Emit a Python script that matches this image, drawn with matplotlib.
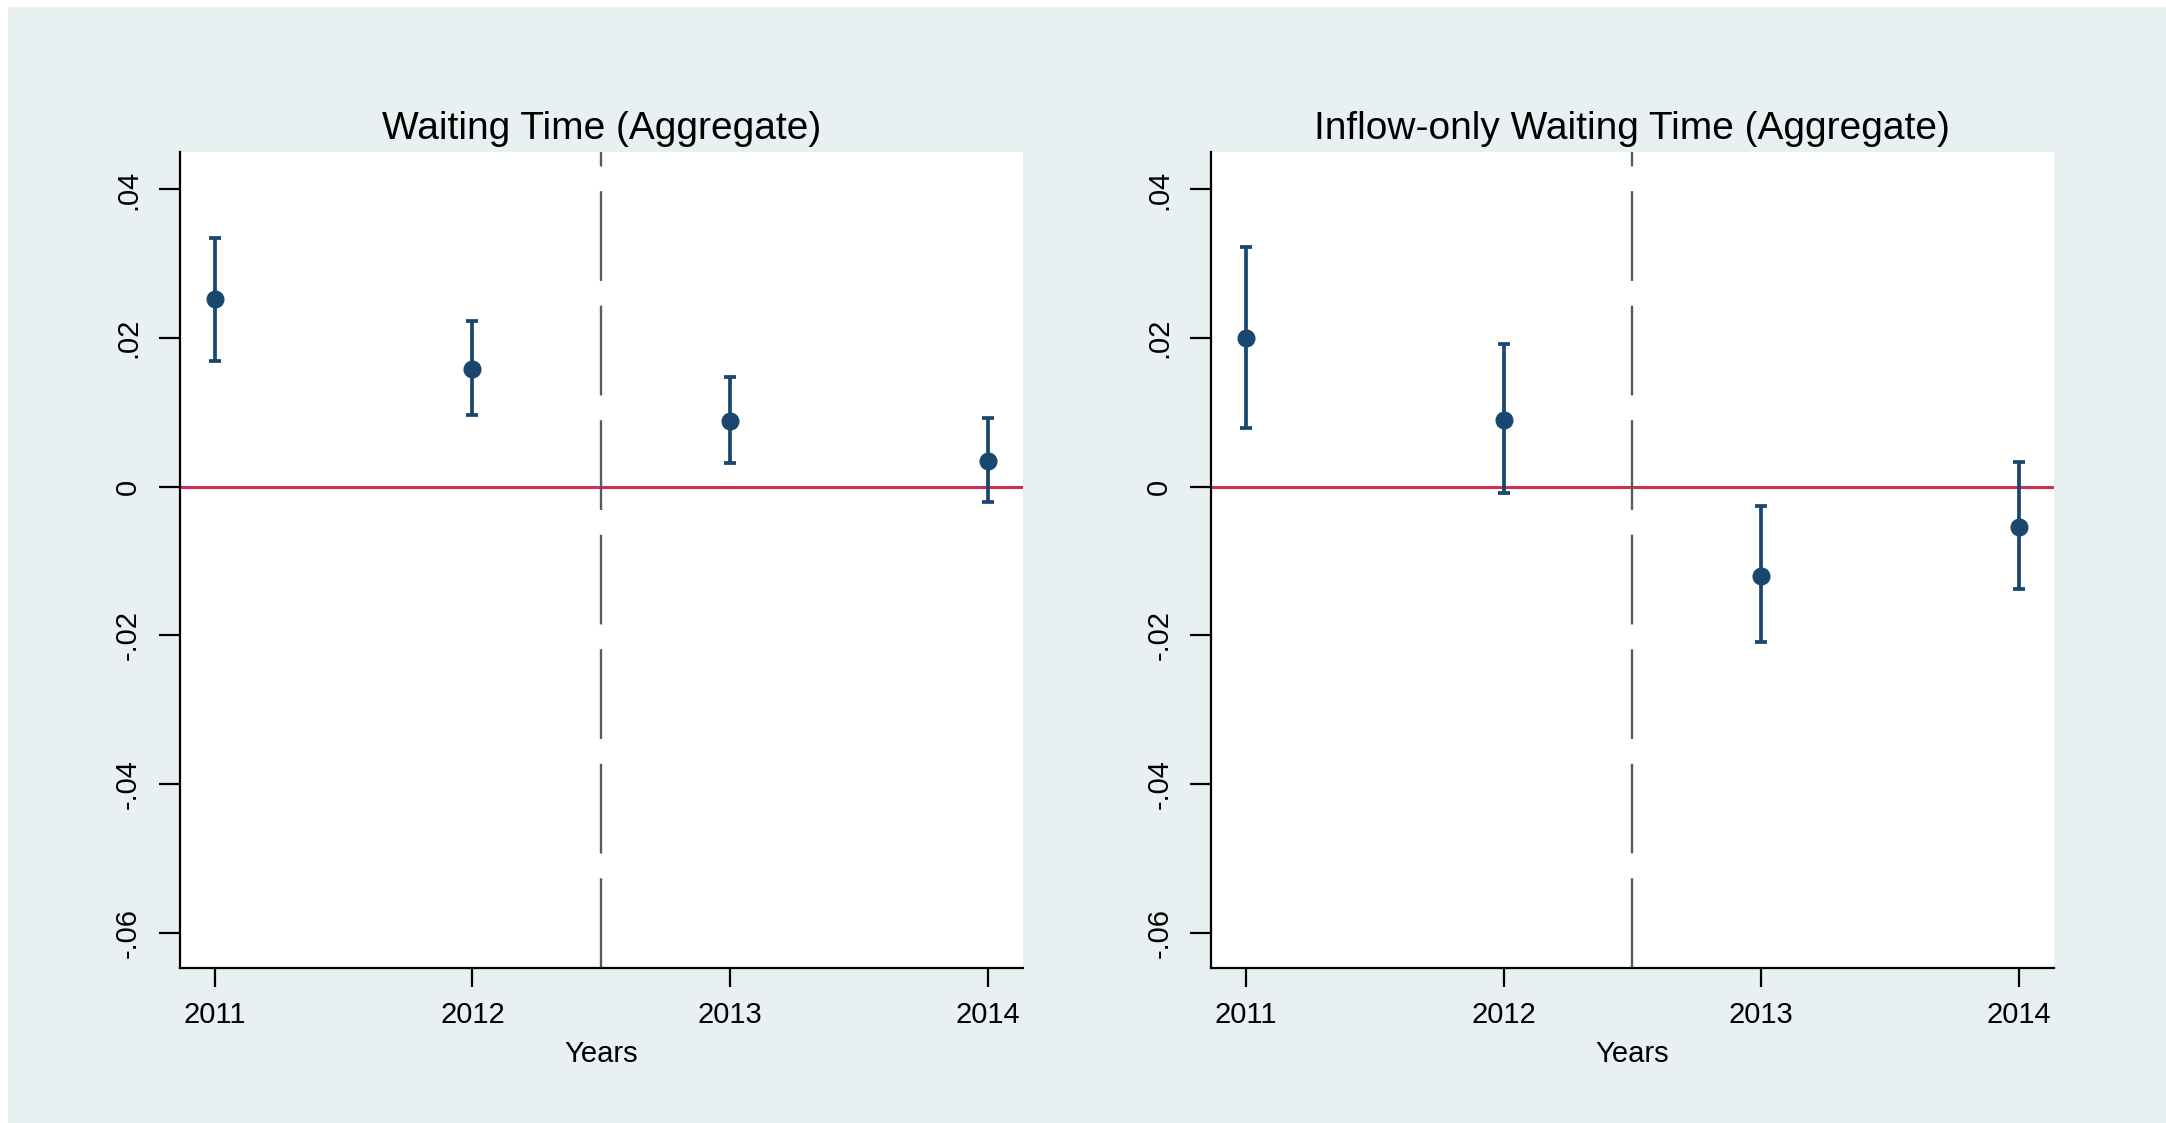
import matplotlib.pyplot as plt
from matplotlib.patches import Rectangle

plt.rcParams['font.family'] = ['Liberation Sans', 'DejaVu Sans']

years = [2011, 2012, 2013, 2014]
titles = ['Waiting Time (Aggregate)', 'Inflow-only Waiting Time (Aggregate)']

# point estimates and 95% CI bounds
agg_mean = [0.0252, 0.0159, 0.0089, 0.0035]
agg_hi = [0.0335, 0.0223, 0.0148, 0.0092]
agg_lo = [0.0169, 0.0096, 0.0032, -0.0021]

inflow_mean = [0.0200, 0.0090, -0.0120, -0.0054]
inflow_hi = [0.0323, 0.0192, -0.0026, 0.0033]
inflow_lo = [0.0079, -0.0009, -0.0209, -0.0137]

yticks = [0.04, 0.02, 0, -0.02, -0.04, -0.06]
ytick_labels = ['.04', '.02', '0', '-.02', '-.04', '-.06']
cutoff = 2012.5

bg = '#E8F0F2'
navy = '#1A476F'
red = '#D12E55'

W, H = 2166, 1123
fig = plt.figure(figsize=(W / 100, H / 100), dpi=100, facecolor='white')
fig.patches.append(Rectangle((8 / W, 0), 1, 1 - 7 / H, transform=fig.transFigure,
                             facecolor=bg, edgecolor='none', zorder=-10))

bottom = 1 - 967.7 / H
top = 1 - 151.7 / H
width = (1022.8 - 179.7) / W
lefts = [179.7 / W, 1210.8 / W]

panels = [(agg_mean, agg_lo, agg_hi), (inflow_mean, inflow_lo, inflow_hi)]

for k, (mean, lo, hi) in enumerate(panels):
    ax = fig.add_axes([lefts[k], bottom, width, top - bottom])
    ax.set_facecolor('white')
    ax.set_xlim(2010.864, 2014.136)
    ax.set_ylim(-0.06472, 0.04508)

    ax.axhline(0, color=red, lw=2.2, zorder=1)
    ax.axvline(cutoff, color='#5A5A5A', lw=1.7, linestyle=(0, (38, 10.5)), zorder=1)

    err = [[m - l for m, l in zip(mean, lo)], [h - m for h, m in zip(hi, mean)]]
    ax.errorbar(years, mean, yerr=err, fmt='o', color=navy, ms=12, elinewidth=2.7,
                capsize=4.5, capthick=2.7, zorder=3)

    ax.set_title(titles[k], fontsize=28, pad=9)
    ax.set_xticks(years)
    ax.set_xticklabels([str(y) for y in years], fontsize=21)
    ax.set_yticks(yticks)
    ax.set_yticklabels(ytick_labels, fontsize=21, rotation=90, va='center')
    ax.tick_params(axis='x', length=14, width=1.6, pad=10)
    ax.tick_params(axis='y', length=15, width=1.6, pad=12)
    ax.set_xlabel('Years', fontsize=21, labelpad=8)

    for s in ['top', 'right']:
        ax.spines[s].set_visible(False)
    for s in ['left', 'bottom']:
        ax.spines[s].set_linewidth(1.6)

fig.savefig('out.png', dpi=100, facecolor=fig.get_facecolor())
